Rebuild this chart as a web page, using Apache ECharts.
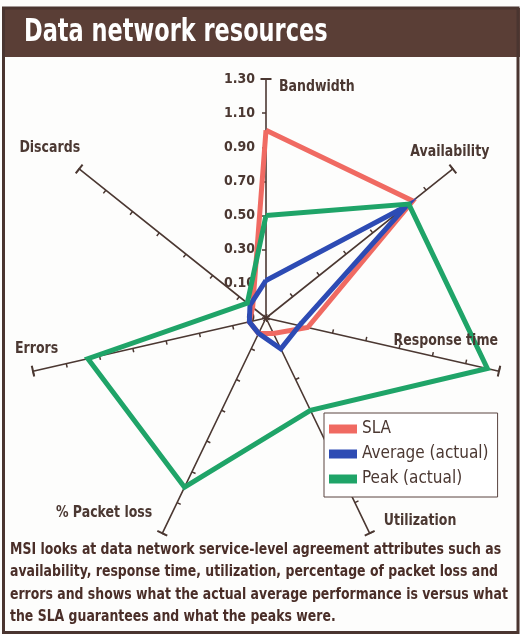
<!DOCTYPE html>
<html><head><meta charset="utf-8">
<script src="https://cdn.jsdelivr.net/npm/echarts@6/dist/echarts.min.js"></script>
<style>html,body{margin:0;padding:0;background:#fff}#c{width:520px;height:634px}</style>
</head><body><div id="c"></div>
<script>
// ---- data (clockwise from the top axis) ----
const titleText = 'Data network resources';
const categories = ['Bandwidth', 'Availability', 'Response time', 'Utilization', '% Packet loss', 'Errors', 'Discards'];
const seriesNames = ['SLA', 'Average (actual)', 'Peak (actual)'];
const slaValues = [1.00, 1.00, 0.15, 0.00, 0.00, 0.00, 0.00];
const averageValues = [0.12, 0.95, 0.10, 0.10, 0.00, 0.00, 0.02];
const peakValues = [0.50, 0.97, 1.23, 0.50, 1.00, 0.97, 0.04];
const tickLabels = ['0', '0.10', '0.30', '0.50', '0.70', '0.90', '1.10', '1.30'];
const captionLines = [
  'MSI looks at data network service-level agreement attributes such as',
  'availability, response time, utilization, percentage of packet loss and',
  'errors and shows what the actual average performance is versus what',
  'the SLA guarantees and what the peaks were.'
];

// ---- layout / style ----
const axisMin = -0.1, axisMax = 1.3, splitN = 7;
const CX = 266, CY = 318, R = 239;
const NARROW = "'Liberation Sans Narrow', 'DejaVu Sans Condensed', 'Arial Narrow', sans-serif";
const brown = '#4b3832';
const colors = ['#f06a62', '#2d4bb4', '#1fa468'];
// name label offsets from each axis end: [dx, dy, align]
const nameLayout = [[13, 8, 'left'], [-3, -17, 'center'], [-1, -30, 'right'], [14, -12, 'left'], [-10, -20, 'right'], [-18, -22, 'left'], [1, -21, 'right']];

// ECharts places indicators counter-clockwise; reorder so they run clockwise.
const order = categories.map((_, i) => (categories.length - i) % categories.length);
const reorder = arr => order.map(i => arr[i]);

const indicators = order.map(i => {
  const ind = { name: categories[i], min: axisMin, max: axisMax };
  if (i === 0) ind.axisLabel = { show: true };
  return ind;
});
const indicatorsPlain = order.map(i => ({ name: categories[i], min: axisMin, max: axisMax }));

const radarBase = {
  center: [CX, CY], radius: R, startAngle: 90, splitNumber: splitN,
  axisName: { show: false },
  splitLine: { show: false }, splitArea: { show: false }
};

function txt(text, x, y, font, fill, sx, align, extra) {
  return {
    type: 'text', z: 5, x: x, y: y, scaleX: sx,
    style: Object.assign({ text: text, x: 0, y: 0, textAlign: align || 'left', textVerticalAlign: 'middle', fill: fill, font: font }, extra || {})
  };
}

const graphics = [
  { type: 'rect', z: 0, shape: { x: 2, y: 8, width: 518, height: 49 }, style: { fill: '#5a3e36' } },
  { type: 'rect', z: 0, shape: { x: 3.5, y: 8, width: 514.5, height: 624.5 }, style: { fill: 'none', stroke: '#4a3530', lineWidth: 3 } },
  txt(titleText, 24, 33, 'bold 32px ' + NARROW, '#ffffff', 0.78),
  txt(captionLines.join('\n'), 10, 539, 'bold 15.5px ' + NARROW, '#4a2e28', 0.895, 'left', { textVerticalAlign: 'top', lineHeight: 22.2 })
];
categories.forEach((name, k) => {
  const th = k * 2 * Math.PI / categories.length;
  const ex = CX + R * Math.sin(th), ey = CY - R * Math.cos(th);
  const L = nameLayout[k];
  graphics.push(txt(name, ex + L[0], ey + L[1], 'bold 15.5px ' + NARROW, brown, 0.9, L[2]));
});

const chart = echarts.init(document.getElementById('c'), null, { renderer: 'canvas' });
chart.setOption({
  animation: false,
  backgroundColor: '#fdfdfc',
  color: colors,
  legend: {
    orient: 'vertical', left: 324, top: 413,
    data: seriesNames,
    icon: 'rect', itemWidth: 28, itemHeight: 9, itemGap: 5,
    backgroundColor: '#ffffff', borderColor: '#5a4540', borderWidth: 1,
    padding: [6, 9, 8, 5],
    textStyle: { fontFamily: NARROW, fontSize: 17, lineHeight: 20, color: brown }
  },
  radar: [
    Object.assign({}, radarBase, {
      indicator: indicators,
      axisLine: { show: true, symbol: ['none', 'rect'], symbolSize: [11, 2], lineStyle: { color: brown, width: 1.6 } },
      axisTick: { show: true, length: 4, lineStyle: { color: brown, width: 1.5 } },
      axisLabel: {
        show: false, margin: 11, color: brown, fontFamily: NARROW, fontWeight: 'bold', fontSize: 14,
        formatter: v => tickLabels[Math.round((v - axisMin) / ((axisMax - axisMin) / splitN))]
      }
    }),
    Object.assign({}, radarBase, {
      indicator: indicatorsPlain,
      axisLine: { show: false },
      axisTick: { show: true, inside: true, length: 4, lineStyle: { color: brown, width: 1.5 } },
      axisLabel: { show: false }
    })
  ],
  series: [{
    type: 'radar', radarIndex: 0, symbol: 'none',
    lineStyle: { width: 5, join: 'miter' },
    data: [
      { name: seriesNames[0], value: reorder(slaValues), lineStyle: { color: colors[0], width: 5 }, itemStyle: { color: colors[0] } },
      { name: seriesNames[1], value: reorder(averageValues), lineStyle: { color: colors[1], width: 5 }, itemStyle: { color: colors[1] } },
      { name: seriesNames[2], value: reorder(peakValues), lineStyle: { color: colors[2], width: 5 }, itemStyle: { color: colors[2] } }
    ]
  }],
  graphic: graphics
});
</script></body></html>
